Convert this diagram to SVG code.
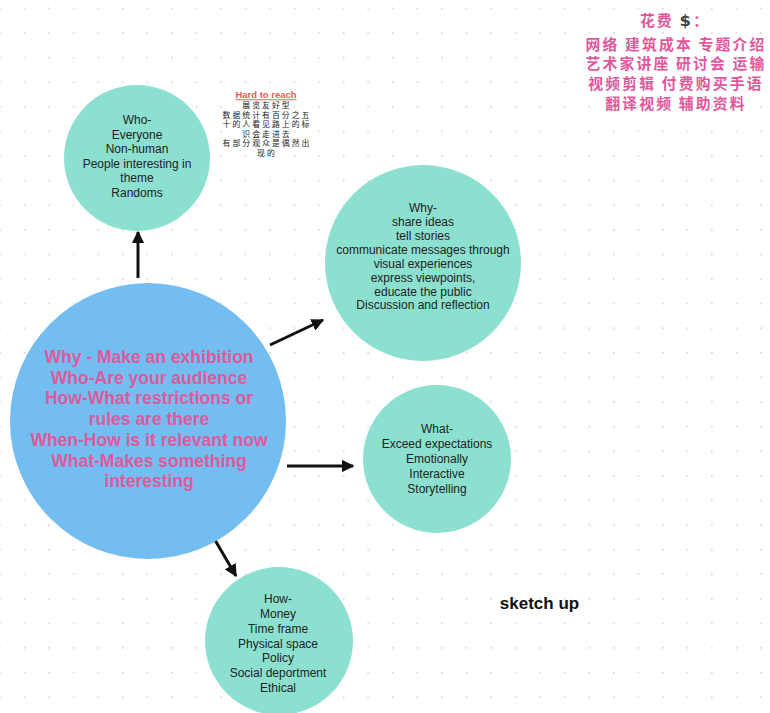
<svg xmlns="http://www.w3.org/2000/svg" width="770" height="713" viewBox="0 0 770 713">
<defs>
<pattern id="dots" x="23.7" y="7.6" width="24.55" height="24.6" patternUnits="userSpaceOnUse">
<circle cx="0.8" cy="0.8" r="0.9" fill="#cfcfcf"/>
</pattern>
<marker id="ah" viewBox="0 0 10 10" refX="9" refY="5" markerWidth="4.2" markerHeight="4.2" orient="auto" markerUnits="strokeWidth">
<path d="M0,0 L10,5 L0,10 z" fill="#111"/>
</marker>
<style>
.teal{fill:#8ce0cf}
.blue{fill:#74bdf0}
.t{font-family:"Liberation Sans",Arial,sans-serif;font-size:12px;fill:#222;text-anchor:middle}
.m{font-family:"Liberation Sans",Arial,sans-serif;font-size:17.5px;font-weight:bold;fill:#df5a9d;text-anchor:middle}
.cn{font-family:"Noto Sans CJK SC",sans-serif;font-size:7.9px;letter-spacing:2px;fill:#222;text-anchor:middle}
.cp{font-family:"Noto Sans CJK SC",sans-serif;font-size:14.8px;letter-spacing:2.2px;font-weight:bold;fill:#e0579c;text-anchor:middle}
.ar{stroke:#111;stroke-width:3;fill:none;marker-end:url(#ah)}
</style>
</defs>
<rect width="770" height="713" fill="#ffffff"/>
<rect width="770" height="713" fill="url(#dots)"/>

<g id="connectors">
<line class="ar" x1="138" y1="278" x2="138" y2="232"/>
<line class="ar" x1="270" y1="345" x2="323" y2="320"/>
<line class="ar" x1="287" y1="466" x2="353" y2="466"/>
<line class="ar" x1="215" y1="540" x2="236" y2="576"/>
</g>

<g id="node-center">
<circle class="blue" cx="148" cy="421" r="138"/>
<text class="m" x="149" y="363">Why - Make an exhibition</text>
<text class="m" x="149" y="384">Who-Are your audience</text>
<text class="m" x="149" y="404">How-What restrictions or</text>
<text class="m" x="149" y="425">rules are there</text>
<text class="m" x="149" y="446">When-How is it relevant now</text>
<text class="m" x="149" y="467">What-Makes something</text>
<text class="m" x="149" y="487">interesting</text>
</g>

<g id="node-who">
<circle class="teal" cx="137" cy="158" r="73"/>
<text class="t" x="137" y="124">Who-</text>
<text class="t" x="137" y="138.5">Everyone</text>
<text class="t" x="137" y="153">Non-human</text>
<text class="t" x="137" y="167.5">People interesting in</text>
<text class="t" x="137" y="182">theme</text>
<text class="t" x="137" y="196.5">Randoms</text>
</g>

<g id="node-why">
<circle class="teal" cx="423" cy="263" r="98"/>
<text class="t" x="423" y="212">Why-</text>
<text class="t" x="423" y="226">share ideas</text>
<text class="t" x="423" y="240">tell stories</text>
<text class="t" x="423" y="254">communicate messages through</text>
<text class="t" x="423" y="268">visual experiences</text>
<text class="t" x="423" y="282">express viewpoints,</text>
<text class="t" x="423" y="296">educate the public</text>
<text class="t" x="423" y="309">Discussion and reflection</text>
</g>

<g id="node-what">
<circle class="teal" cx="437" cy="459" r="74"/>
<text class="t" x="437" y="433">What-</text>
<text class="t" x="437" y="448">Exceed expectations</text>
<text class="t" x="437" y="463">Emotionally</text>
<text class="t" x="437" y="478">Interactive</text>
<text class="t" x="437" y="493">Storytelling</text>
</g>

<g id="node-how">
<circle class="teal" cx="279" cy="641" r="74"/>
<text class="t" x="278" y="603">How-</text>
<text class="t" x="278" y="617.5">Money</text>
<text class="t" x="278" y="632.5">Time frame</text>
<text class="t" x="278" y="647.5">Physical space</text>
<text class="t" x="278" y="662">Policy</text>
<text class="t" x="278" y="677">Social deportment</text>
<text class="t" x="278" y="692">Ethical</text>
</g>

<g id="note-hard">
<text x="266" y="98.3" style="font-family:'Liberation Sans',Arial,sans-serif;font-size:9.5px;font-weight:bold;fill:#e2614a;text-anchor:middle;text-decoration:underline">Hard to reach</text>
<text class="cn" x="267" y="108.3">展览友好型</text>
<text class="cn" x="267" y="117.8">数据统计有百分之五</text>
<text class="cn" x="267" y="127.3">十的人看见路上的标</text>
<text class="cn" x="267" y="136.8">识会走进去</text>
<text class="cn" x="267" y="146.3">有部分观众是偶然出</text>
<text class="cn" x="267" y="155.8">现的</text>
</g>

<g id="note-cost">
<text class="cp" x="675" y="26">花费 <tspan style="fill:#444;font-family:'DejaVu Sans',sans-serif;font-size:16.5px;font-weight:bold">$</tspan>：</text>
<text class="cp" x="676" y="49.5">网络 建筑成本 专题介绍</text>
<text class="cp" x="676" y="69.3">艺术家讲座  研讨会 运输</text>
<text class="cp" x="676" y="89.1">视频剪辑 付费购买手语</text>
<text class="cp" x="676" y="108.9">翻译视频 辅助资料</text>
</g>

<g id="label-sketch">
<text x="539.5" y="609" style="font-family:'Liberation Sans',Arial,sans-serif;font-size:17px;font-weight:bold;fill:#111;text-anchor:middle">sketch up</text>
</g>
</svg>
